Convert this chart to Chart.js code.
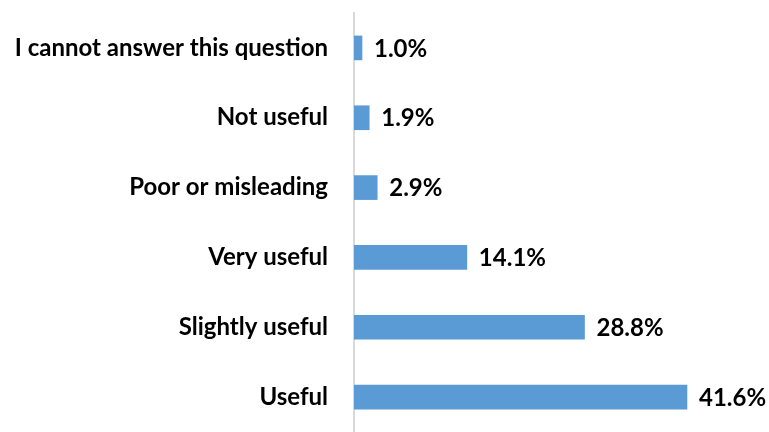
<!DOCTYPE html>
<html>
<head>
<meta charset="utf-8">
<script src="https://cdn.jsdelivr.net/npm/chart.js@4/dist/chart.umd.min.js"></script>
<style>
  html, body { margin: 0; padding: 0; background: #fff; }
  #wrap { width: 769px; height: 432px; }
</style>
</head>
<body>
<div id="wrap"><canvas id="usefulness"></canvas></div>
<script>
// answers, top to bottom
let labels = [
    "I cannot answer this question",
    "Not useful",
    "Poor or misleading",
    "Very useful",
    "Slightly useful",
    "Useful"
];
let shares = [1.0, 1.9, 2.9, 14.1, 28.8, 41.6];

// value text after each bar end
let valueLabels = {
    id: 'valueLabels',
    afterDatasetsDraw(chart) {
        let ctx = chart.ctx;
        let meta = chart.getDatasetMeta(0);
        ctx.save();
        ctx.font = 'bold 24px Lato';
        ctx.fillStyle = '#000';
        ctx.textAlign = 'left';
        ctx.textBaseline = 'middle';
        meta.data.forEach((bar, i) => {
            ctx.fillText(shares[i].toFixed(1) + '%', bar.x + 12, bar.y + 1);
        });
        ctx.restore();
    }
};

let chart = new Chart(document.getElementById('usefulness'), {
    type: 'bar',
    data: {
        labels: labels,
        datasets: [{
            data: shares,
            backgroundColor: '#5b9bd5',
            borderWidth: 0,
            barThickness: 24
        }]
    },
    options: {
        indexAxis: 'y',
        responsive: true,
        maintainAspectRatio: false,
        animation: false,
        layout: { padding: { top: 13, right: 2, bottom: 0, left: 0 } },
        plugins: {
            legend: { display: false },
            tooltip: { enabled: false }
        },
        scales: {
            x: {
                display: false,
                min: 0,
                max: 51.6
            },
            y: {
                grid: { display: false, drawTicks: false },
                border: { display: true, color: '#d9d9d9', width: 2 },
                ticks: {
                    color: '#000',
                    padding: 26,
                    font: { family: 'Lato', size: 24, weight: 'bold' }
                },
                afterFit(scale) {
                    scale.width = 354;
                    scale.paddingTop = 0;
                    scale.paddingBottom = 0;
                }
            }
        }
    },
    plugins: [valueLabels]
});
</script>
</body>
</html>
